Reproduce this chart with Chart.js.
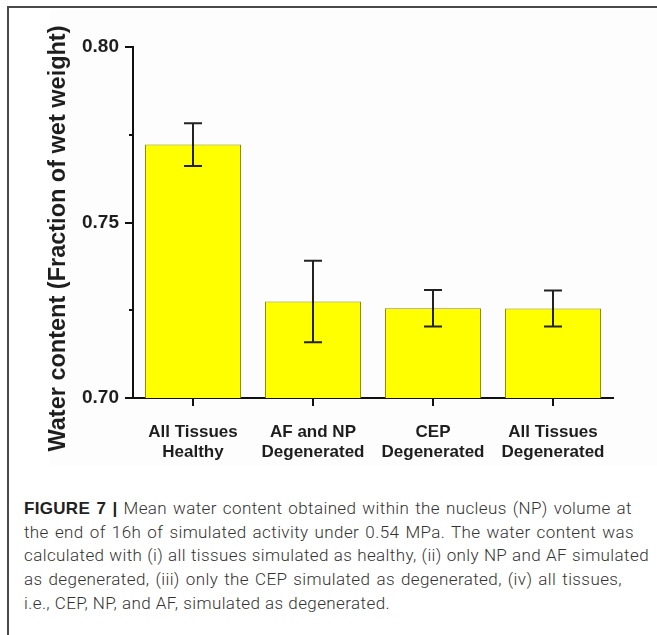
<!DOCTYPE html>
<html>
<head>
<meta charset="utf-8">
<title>Figure 7 - Water content</title>
<script src="https://cdn.jsdelivr.net/npm/chart.js"></script>
<style>
  html, body { margin: 0; padding: 0; background: #fff; overflow: hidden; }
  #wrap { position: relative; width: 657px; height: 635px; }
  #frame {
    position: absolute; left: 7px; top: 6px; width: 680px; height: 660px;
    border-left: 2px solid #4a4a4a; border-top: 2px solid #4a4a4a;
    pointer-events: none; z-index: 2;
  }
  #plotBg { position: absolute; left: 50px; top: 9px; width: 607px; height: 456px; background: #fdfdfd; }
  #waterChart { position: absolute; left: 0; top: 0; }
  #caption {
    position: absolute; left: 24px; top: 497.3px;
    font-family: Roboto, "Liberation Sans", sans-serif; font-weight: 300;
    font-size: 17px; line-height: 23.6px; color: #333; letter-spacing: 0.4px;
  }
  #caption div { white-space: nowrap; text-align: justify; text-align-last: justify; }
  #caption b { font-family: "Liberation Sans", Arial, sans-serif; font-weight: 700; color: #222; letter-spacing: 0.3px; }
</style>
</head>
<body>
<div id="wrap">
  <div id="plotBg"></div>
  <div id="frame"></div>
  <canvas id="waterChart" width="657" height="470"></canvas>
  <div id="caption">
    <div style="width:608px"><b>FIGURE 7 |</b> Mean water content obtained within the nucleus (NP) volume at</div>
    <div style="width:610px">the end of 16h of simulated activity under 0.54 MPa. The water content was</div>
    <div style="width:625px">calculated with (i) all tissues simulated as healthy, (ii) only NP and AF simulated</div>
    <div style="width:598px">as degenerated, (iii) only the CEP simulated as degenerated, (iv) all tissues,</div>
    <div style="width:366px">i.e., CEP, NP, and AF, simulated as degenerated.</div>
  </div>
</div>
<script>
// data
const categories = [
  ['All Tissues', 'Healthy'],
  ['AF and NP', 'Degenerated'],
  ['CEP', 'Degenerated'],
  ['All Tissues', 'Degenerated']
];
const waterContent = [0.7722, 0.7275, 0.7256, 0.7255];
const errorValues = [0.0061, 0.0116, 0.0052, 0.0051];
const yTicks = [0.70, 0.75, 0.80];
const yMinorTicks = [0.725, 0.775];
const yTitle = 'Water content (Fraction of wet weight)';

const FONT = '"Liberation Sans", Arial, sans-serif';

// error bars on top of each bar
const errorBarPlugin = {
  id: 'errorBars',
  afterDatasetsDraw(chart) {
    const ctx = chart.ctx;
    const y = chart.scales.y;
    const meta = chart.getDatasetMeta(0);
    ctx.save();
    ctx.strokeStyle = '#222';
    ctx.lineWidth = 2;
    meta.data.forEach(function (bar, i) {
      const top = y.getPixelForValue(waterContent[i] + errorValues[i]);
      const bot = y.getPixelForValue(waterContent[i] - errorValues[i]);
      ctx.beginPath();
      ctx.moveTo(bar.x, top);
      ctx.lineTo(bar.x, bot);
      ctx.moveTo(bar.x - 9, top);
      ctx.lineTo(bar.x + 9, top);
      ctx.moveTo(bar.x - 9, bot);
      ctx.lineTo(bar.x + 9, bot);
      ctx.stroke();
    });
    ctx.restore();
  }
};

// minor ticks + rotated y title
const axisExtras = {
  id: 'axisExtras',
  afterDraw(chart) {
    const ctx = chart.ctx;
    const y = chart.scales.y;
    const left = chart.chartArea.left;
    ctx.save();
    ctx.strokeStyle = '#111';
    ctx.lineWidth = 2;
    yMinorTicks.forEach(function (v) {
      const py = Math.round(y.getPixelForValue(v));
      ctx.beginPath();
      ctx.moveTo(left - 4, py);
      ctx.lineTo(left, py);
      ctx.stroke();
    });
    ctx.translate(58.5, 238.5);
    ctx.rotate(-Math.PI / 2);
    ctx.font = 'bold 23.5px ' + FONT;
    ctx.fillStyle = '#1e1e1e';
    ctx.textAlign = 'center';
    ctx.textBaseline = 'middle';
    ctx.fillText(yTitle, 0, 0);
    ctx.restore();
  }
};

new Chart(document.getElementById('waterChart'), {
  type: 'bar',
  data: {
    labels: categories,
    datasets: [{
      label: 'Water content',
      data: waterContent,
      backgroundColor: '#ffff00',
      borderColor: '#8f8f00',
      borderWidth: 1,
      borderSkipped: 'bottom',
      categoryPercentage: 0.8,
      barPercentage: 1.0
    }]
  },
  options: {
    responsive: false,
    animation: false,
    devicePixelRatio: 1,
    layout: { padding: { left: 0, top: 47, right: 44, bottom: 0 } },
    plugins: {
      legend: { display: false },
      tooltip: { enabled: false }
    },
    scales: {
      x: {
        afterFit: function (s) { s.height = 72; },
        grid: {
          offset: false,
          drawOnChartArea: false,
          drawTicks: true,
          tickLength: 8,
          color: '#111',
          lineWidth: 2
        },
        border: { display: true, color: '#111', width: 2 },
        ticks: {
          color: '#1e1e1e',
          padding: 16,
          maxRotation: 0,
          autoSkip: false,
          font: { family: FONT, size: 17, weight: 'bold', lineHeight: 1.2 }
        }
      },
      y: {
        min: 0.70,
        max: 0.80,
        afterFit: function (s) { s.width = 133; },
        afterBuildTicks: function (s) {
          s.ticks = yTicks.map(function (v) { return { value: v }; });
        },
        grid: {
          drawOnChartArea: false,
          drawTicks: true,
          tickLength: 8,
          color: '#111',
          lineWidth: 2
        },
        border: { display: true, color: '#111', width: 2 },
        ticks: {
          color: '#1e1e1e',
          padding: 6,
          font: { family: FONT, size: 19, weight: 'bold' },
          callback: function (v) { return Number(v).toFixed(2); }
        }
      }
    }
  },
  plugins: [errorBarPlugin, axisExtras]
});
</script>
</body>
</html>
